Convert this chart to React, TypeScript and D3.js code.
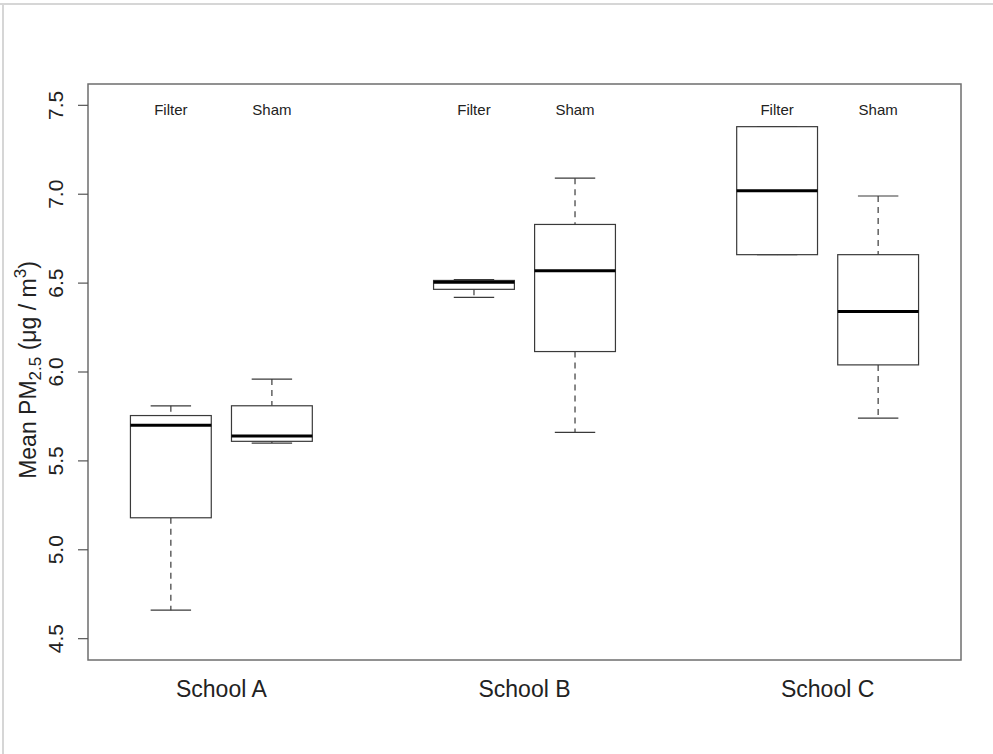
import React from 'react';
import * as d3 from 'd3';

const WIDTH = 993;
const HEIGHT = 754;

// groups (school x treatment) and their box positions on the x axis
const schools = ['School A', 'School B', 'School C'];
const treatments = ['Filter', 'Sham'];
const groupPositions = [1, 2, 4, 5, 7, 8];
const schoolPositions = [1.5, 4.5, 7.5];

// five-number summaries: lower whisker, q1, median, q3, upper whisker
const lowerWhisker = [4.66, 5.6, 6.42, 5.66, 6.66, 5.74];
const q1 = [5.18, 5.61, 6.465, 6.115, 6.66, 6.04];
const median = [5.7, 5.64, 6.505, 6.57, 7.02, 6.34];
const q3 = [5.755, 5.81, 6.515, 6.83, 7.38, 6.66];
const upperWhisker = [5.81, 5.96, 6.52, 7.09, 7.38, 6.99];

const yTicks = [4.5, 5.0, 5.5, 6.0, 6.5, 7.0, 7.5];

const margin = {top: 84, right: 32, bottom: 94, left: 88};
const FONT = '"Liberation Sans", Arial, Helvetica, sans-serif';

const App = () => {
    const plotRight = WIDTH - margin.right;
    const plotBottom = HEIGHT - margin.bottom;

    const xScale = d3.scaleLinear().domain([0.18, 8.82]).range([margin.left, plotRight]);
    const yScale = d3.scaleLinear().domain([4.38, 7.62]).range([plotBottom, margin.top]);
    const fmt = d3.format('.1f');

    const halfBox = xScale(1.4) - xScale(1);
    const halfCap = xScale(1.2) - xScale(1);
    const boxStroke = '#3a3a3a';

    return (
        <div style={{position: 'absolute', top: 0, left: 0}}>
            <svg width={WIDTH} height={HEIGHT} style={{display: 'block', background: 'white'}}>
                {/* light frame of the screenshot */}
                <line x1={0} x2={WIDTH} y1={4} y2={4} stroke="#d6d6d6" strokeWidth={2} />
                <line x1={3} x2={3} y1={4} y2={HEIGHT} stroke="#d6d6d6" strokeWidth={2} />

                {/* boxes */}
                {groupPositions.map((p, i) => {
                    const cx = xScale(p);
                    return (
                        <g key={i} stroke={boxStroke} fill="none">
                            <line x1={cx} x2={cx} y1={yScale(upperWhisker[i])} y2={yScale(q3[i])}
                                  strokeDasharray="6,5" strokeWidth={1.2} />
                            <line x1={cx} x2={cx} y1={yScale(q1[i])} y2={yScale(lowerWhisker[i])}
                                  strokeDasharray="6,5" strokeWidth={1.2} />
                            <line x1={cx - halfCap} x2={cx + halfCap}
                                  y1={yScale(upperWhisker[i])} y2={yScale(upperWhisker[i])} strokeWidth={1.2} />
                            <line x1={cx - halfCap} x2={cx + halfCap}
                                  y1={yScale(lowerWhisker[i])} y2={yScale(lowerWhisker[i])} strokeWidth={1.2} />
                            <rect x={cx - halfBox} y={yScale(q3[i])} width={halfBox * 2}
                                  height={Math.max(yScale(q1[i]) - yScale(q3[i]), 0.5)}
                                  fill="white" strokeWidth={1.2} />
                            <line x1={cx - halfBox} x2={cx + halfBox}
                                  y1={yScale(median[i])} y2={yScale(median[i])}
                                  stroke="black" strokeWidth={3} />
                        </g>
                    );
                })}

                {/* treatment labels */}
                {groupPositions.map((p, i) => (
                    <text key={`t${i}`} x={xScale(p)} y={115} textAnchor="middle"
                          fontFamily={FONT} fontSize={15} fill="#222">
                        {treatments[i % 2]}
                    </text>
                ))}

                {/* plot frame */}
                <rect x={margin.left} y={margin.top} width={plotRight - margin.left}
                      height={plotBottom - margin.top} fill="none" stroke="#6e6e6e" strokeWidth={1.5} />

                {/* y axis */}
                {yTicks.map(t => (
                    <g key={t}>
                        <line x1={margin.left - 10} x2={margin.left} y1={yScale(t)} y2={yScale(t)}
                              stroke="#555" strokeWidth={1.2} />
                        <text transform={`translate(${63},${yScale(t)}) rotate(-90)`} textAnchor="middle"
                              fontFamily={FONT} fontSize={21} fill="#222">
                            {fmt(t)}
                        </text>
                    </g>
                ))}

                {/* y axis title */}
                <text transform={`translate(36,${(margin.top + plotBottom) / 2 - 2}) rotate(-90)`}
                      textAnchor="middle" fontFamily={FONT} fontSize={23} fill="#222">
                    <tspan>Mean PM</tspan>
                    <tspan fontSize={17} dy={5}>2.5</tspan>
                    <tspan dy={-5}> (μg / m</tspan>
                    <tspan fontSize={17} dy={-10}>3</tspan>
                    <tspan dy={10}>)</tspan>
                </text>

                {/* school labels */}
                {schoolPositions.map((p, i) => (
                    <text key={schools[i]} x={xScale(p)} y={697} textAnchor="middle"
                          fontFamily={FONT} fontSize={23} fill="#222">
                        {schools[i]}
                    </text>
                ))}
            </svg>
        </div>
    );
};

export default App;
